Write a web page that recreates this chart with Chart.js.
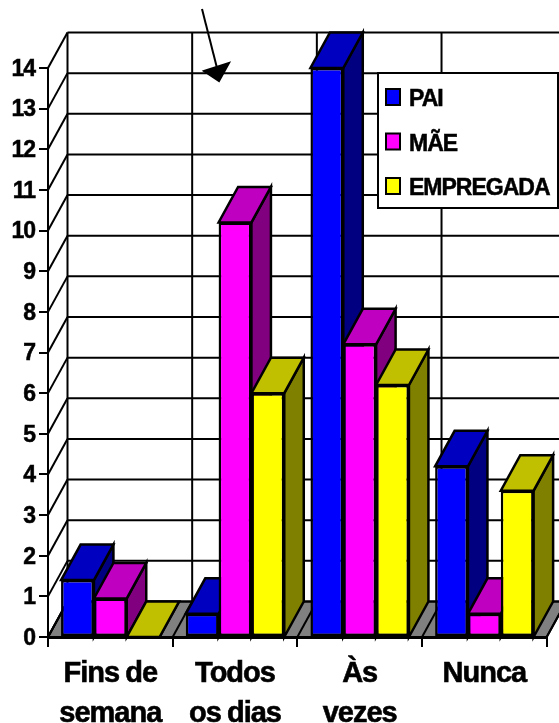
<!DOCTYPE html>
<html>
<head>
<meta charset="utf-8">
<style>
  html, body { margin: 0; padding: 0; background: #fff; }
  canvas { display: block; }
</style>
<script src="https://cdn.jsdelivr.net/npm/chart.js@4"></script>
</head>
<body>
<canvas id="chart" width="559" height="723"></canvas>
<script>
const categories = [['Fins de', 'semana'], ['Todos', 'os dias'], ['Às', 'vezes'], ['Nunca']];
const pai = [1.4, 0.57, 14, 4.2];
const mae = [0.95, 10.2, 7.2, 0.57];
const empregada = [0, 6, 6.2, 3.6];
const seriesNames = ['PAI', 'MÃE', 'EMPREGADA'];
const frontColors = ['#0000ff', '#ff00ff', '#ffff00'];
const topColors = ['#0000c0', '#c000c0', '#c0c000'];
const sideColors = ['#000080', '#800080', '#808000'];

const depthX = 19.5;
const depthY = -35.5;

function poly(ctx, pts, fill) {
    ctx.beginPath();
    pts.forEach((p, i) => i ? ctx.lineTo(p[0], p[1]) : ctx.moveTo(p[0], p[1]));
    ctx.closePath();
    if (fill) {
        ctx.fillStyle = fill;
        ctx.fill();
    }
    ctx.stroke();
}

function line(ctx, x1, y1, x2, y2) {
    ctx.beginPath();
    ctx.moveTo(x1, y1);
    ctx.lineTo(x2, y2);
    ctx.stroke();
}

// back wall, side wall and floor, then the side and top faces of the bars
const box3d = {
    id: 'box3d',
    beforeDraw(chart) {
        chart.ctx.letterSpacing = '-1px';
        chart.ctx.wordSpacing = '-1px';
    },
    beforeDatasetsDraw(chart) {
        const { ctx, scales: { x, y } } = chart;
        const base = y.getPixelForValue(0);
        const top = y.getPixelForValue(y.max);
        const band = x.width / categories.length;

        ctx.save();
        ctx.strokeStyle = '#000';
        ctx.lineWidth = 2;
        ctx.lineJoin = 'miter';

        poly(ctx, [[x.left, base], [x.right, base], [x.right + depthX, base + depthY], [x.left + depthX, base + depthY]], '#808080');
        for (let i = 0; i <= categories.length; i++) {
            const px = x.left + i * band;
            line(ctx, px, base, px + depthX, base + depthY);
            line(ctx, px + depthX, base + depthY, px + depthX, top + depthY);
        }
        for (let v = y.min; v <= y.max; v++) {
            const py = y.getPixelForValue(v);
            line(ctx, x.left, py, x.left + depthX, py + depthY);
            line(ctx, x.left + depthX, py + depthY, chart.width + 5, py + depthY);
        }

        ctx.lineWidth = 2.5;
        chart.data.labels.forEach((_, c) => {
            chart.data.datasets.forEach((ds, d) => {
                const bar = chart.getDatasetMeta(d).data[c];
                const half = bar.width / 2;
                const l = bar.x - half;
                const r = bar.x + half;
                poly(ctx, [[r, bar.y], [r, base], [r + depthX, base + depthY], [r + depthX, bar.y + depthY]], sideColors[d]);
                poly(ctx, [[l, bar.y], [r, bar.y], [r + depthX, bar.y + depthY], [l + depthX, bar.y + depthY]], topColors[d]);
            });
        });
        ctx.restore();
    },
    afterDraw(chart) {
        const ctx = chart.ctx;
        ctx.save();
        ctx.strokeStyle = '#000';
        ctx.lineWidth = 2;

        // legend box
        ctx.fillStyle = '#fff';
        ctx.fillRect(378, 73, 180, 135);
        ctx.strokeRect(378, 73, 180, 135);
        ctx.font = 'bold 23px "Liberation Sans", Arial, sans-serif';
        ctx.textBaseline = 'alphabetic';
        ctx.textAlign = 'left';
        seriesNames.forEach((name, i) => {
            const rowY = 89 + i * 44.5;
            ctx.fillStyle = frontColors[i];
            ctx.fillRect(386, rowY, 14, 16);
            ctx.strokeRect(386, rowY, 14, 16);
            ctx.fillStyle = '#000';
            ctx.lineWidth = 0.5;
            ctx.fillText(name, 409, rowY + 17);
            ctx.strokeText(name, 409, rowY + 17);
            ctx.lineWidth = 2;
        });

        // arrow drawn over the chart
        line(ctx, 202, 9, 217, 68);
        poly(ctx, [[204, 71], [229, 63], [219, 81]], '#000');
        ctx.restore();
    }
};

const datasets = [pai, mae, empregada].map((values, i) => ({
    label: seriesNames[i],
    data: values,
    backgroundColor: frontColors[i],
    borderColor: '#000',
    borderWidth: 2.5,
    borderSkipped: false,
    clip: false,
    categoryPercentage: 0.79,
    barPercentage: 1
}));

new Chart(document.getElementById('chart'), {
    type: 'bar',
    data: { labels: categories, datasets },
    plugins: [box3d],
    options: {
        responsive: false,
        animation: false,
        layout: { padding: { top: 68, right: 12.3, left: 0, bottom: 0 } },
        plugins: { legend: { display: false }, tooltip: { enabled: false } },
        scales: {
            x: {
                afterFit: scale => { scale.height = 86; },
                grid: { drawOnChartArea: false, offset: true, color: '#000', lineWidth: 2, tickLength: 10 },
                border: { color: '#000', width: 3 },
                ticks: {
                    color: '#000',
                    maxRotation: 0,
                    autoSkip: false,
                    padding: 7,
                    textStrokeColor: '#000',
                    textStrokeWidth: 0.6,
                    font: { family: '"Liberation Sans", Arial, sans-serif', size: 29, weight: 'bold', lineHeight: 1.37 }
                }
            },
            y: {
                min: 0,
                max: 14,
                afterFit: scale => { scale.width = 48; },
                grid: { drawOnChartArea: false, color: '#000', lineWidth: 2, tickLength: 9 },
                border: { color: '#000', width: 2 },
                ticks: {
                    stepSize: 1,
                    color: '#000',
                    padding: 4,
                    labelOffset: 1.5,
                    textStrokeColor: '#000',
                    textStrokeWidth: 0.5,
                    font: { family: '"Liberation Sans", Arial, sans-serif', size: 23, weight: 'bold' }
                }
            }
        }
    }
});
</script>
</body>
</html>
